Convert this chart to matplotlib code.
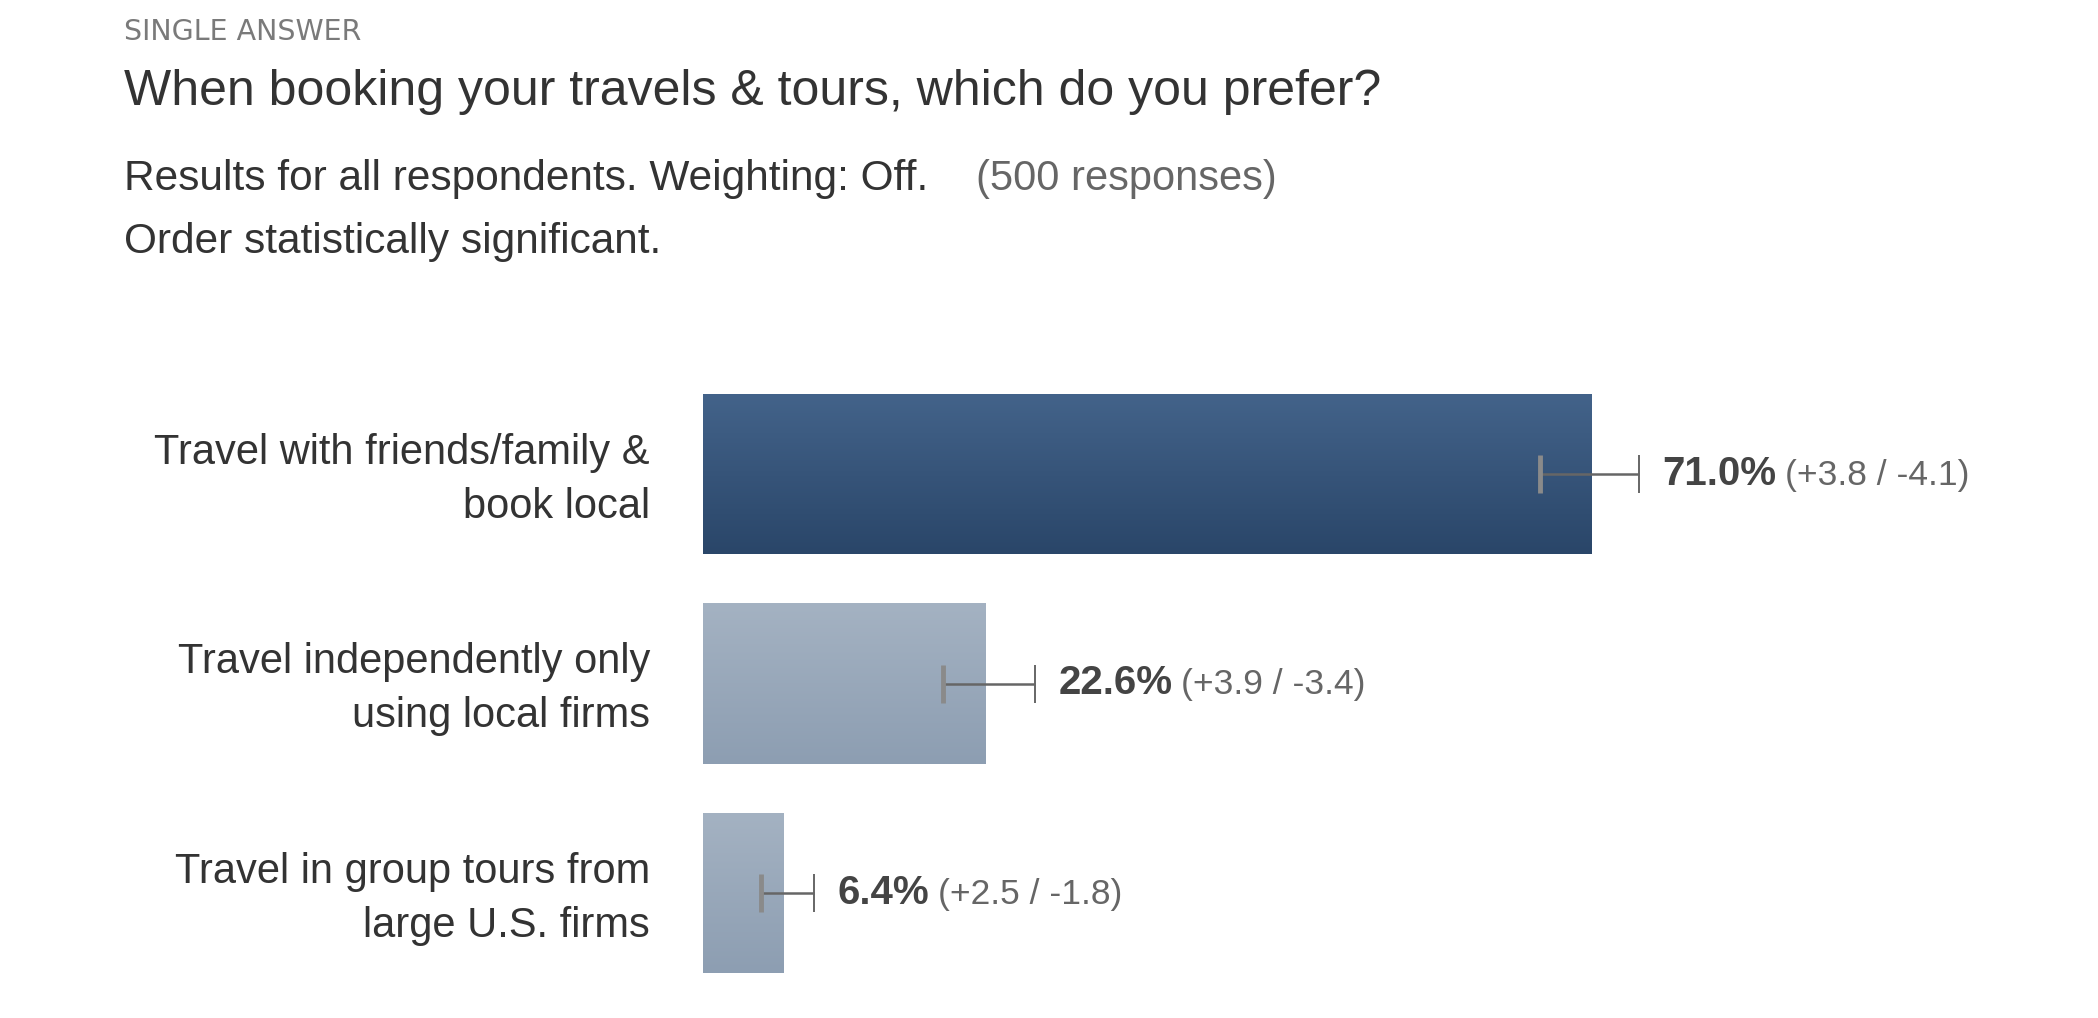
import numpy as np
import matplotlib
matplotlib.use("Agg")
from matplotlib import pyplot as plt

plt.rcParams['font.family'] = ['Liberation Sans', 'DejaVu Sans']

categories = ["Travel with friends/family &\nbook local",
              "Travel independently only\nusing local firms",
              "Travel in group tours from\nlarge U.S. firms"]
values = [71.0, 22.6, 6.4]
err_plus = [3.8, 3.9, 2.5]
err_minus = [4.1, 3.4, 1.8]

W, H = 2098, 1018
fig = plt.figure(figsize=(W / 100, H / 100), dpi=100)
fig.patch.set_facecolor('white')

# header texts
x0 = 124 / W
fig.text(x0, 1 - 32 / H, "SINGLE ANSWER", fontsize=20.5, color='#7a7a7a',
         va='center', ha='left', family=['DejaVu Sans'])
fig.text(x0, 1 - 92 / H, "When booking your travels & tours, which do you prefer?",
         fontsize=36, color='#333333', va='center', ha='left')
fig.text(x0, 1 - 179 / H, "Results for all respondents. Weighting: Off.",
         fontsize=30.5, color='#333333', va='center', ha='left')
fig.text(976 / W, 1 - 179 / H, "(500 responses)",
         fontsize=30, color='#666666', va='center', ha='left')
fig.text(x0, 1 - 242 / H, "Order statistically significant.",
         fontsize=30.5, color='#333333', va='center', ha='left')

ax = fig.add_axes([703 / W, 1 - 997.75 / H, 1251 / W, 628.5 / H])
ax.set_xlim(0, 100)
ax.set_ylim(2.5, -0.5)
ax.axis('off')

y = np.arange(len(values))
bars = ax.barh(y, values, height=0.764, color='none', edgecolor='none')

grads = [('#43638a', '#2a4669'), ('#a4b2c2', '#8d9eb2'), ('#a4b2c2', '#8d9eb2')]
for b, (c_top, c_bot) in zip(bars, grads):
    bx, by, bw, bh = b.get_x(), b.get_y(), b.get_width(), b.get_height()
    top = np.array(matplotlib.colors.to_rgb(c_top))
    bot = np.array(matplotlib.colors.to_rgb(c_bot))
    f = np.linspace(0, 1, 64)[:, None, None]
    img = top * (1 - f) + bot * f
    im = ax.imshow(img, extent=[bx, bx + bw, by + bh, by], aspect='auto',
                   origin='upper', zorder=1)
    im.set_clip_path(b)

eb = ax.errorbar(values, y, xerr=[err_minus, err_plus], fmt='none',
                 ecolor='#666666', elinewidth=1.8, capsize=14, capthick=1.4, zorder=3)
caps = eb[1]
if len(caps) >= 1:
    caps[0].set_markeredgecolor('#8a8a8a')
    caps[0].set_markeredgewidth(3.5)

# category labels
for yi, lab in zip(y, categories):
    ax.annotate(lab, xy=(-(703 - 650) / 1251 * 100, yi), xytext=(0, -4),
                textcoords='offset points', ha='right', va='center', fontsize=30,
                color='#333333', linespacing=1.45, annotation_clip=False)

# value labels
fig.canvas.draw()
for yi, v, p, m in zip(y, values, err_plus, err_minus):
    t1 = ax.annotate(f"{v:.1f}%", xy=(v + p, yi), xytext=(17, 0),
                     textcoords='offset points', ha='left', va='center',
                     fontsize=29, fontweight='bold', color='#444444')
    ax.annotate(f"(+{p} / -{m})", xy=(1, 0.5), xycoords=t1, xytext=(6, -1),
                textcoords='offset points', ha='left', va='center',
                fontsize=25.5, color='#666666')

fig.savefig("out.png", dpi=100, facecolor='white')
